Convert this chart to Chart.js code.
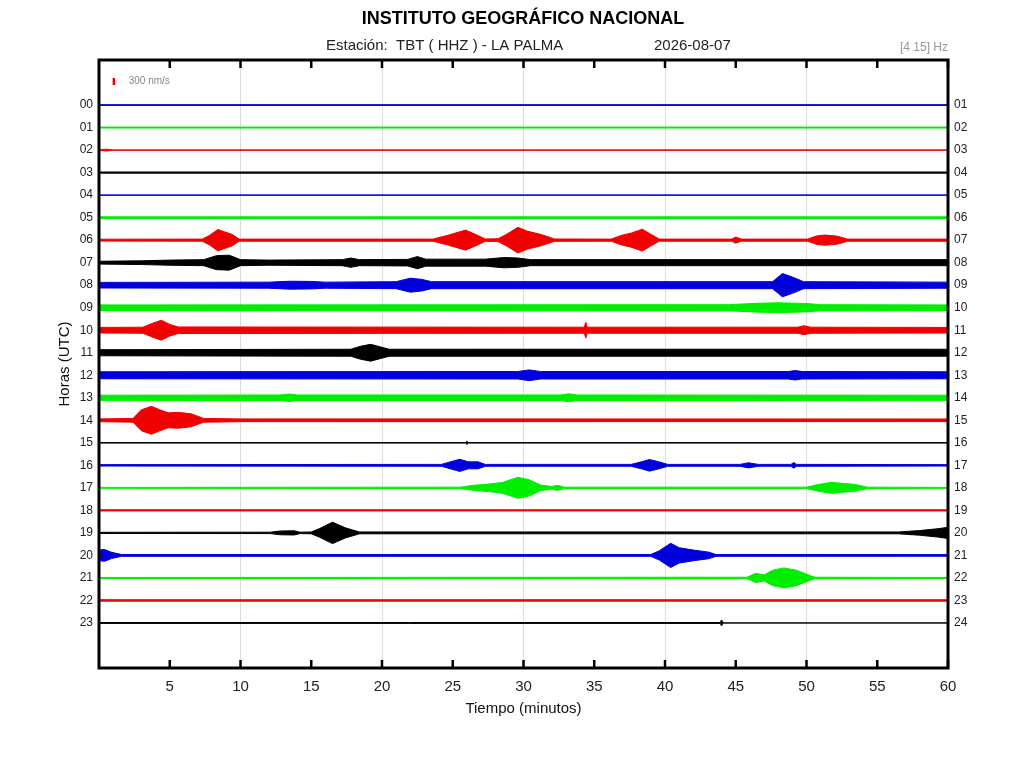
<!DOCTYPE html>
<html>
<head>
<meta charset="utf-8">
<title>Helicorder TBT</title>
<script src="https://cdn.jsdelivr.net/npm/chart.js@4.4.1/dist/chart.umd.min.js"></script>
<style>
  body { margin: 0; background: #fff; }
  canvas { display: block; }
</style>
</head>
<body>
<canvas id="heli" width="1024" height="768"></canvas>
<script>
// hour rows, left and right labels
const hours = [0,1,2,3,4,5,6,7,8,9,10,11,12,13,14,15,16,17,18,19,20,21,22,23];
const leftLabels = ["00","01","02","03","04","05","06","07","08","09","10","11","12","13","14","15","16","17","18","19","20","21","22","23"];
const rightLabels = ["01","02","03","04","05","06","07","08","09","10","11","12","13","14","15","16","17","18","19","20","21","22","23","24"];
const minuteTicks = [5,10,15,20,25,30,35,40,45,50,55,60];
const traceColors = ["#0000dd", "#00ee00", "#f00000", "#000000"];
const scaleBarNms = 300;

// envelope of each trace: [minute, half amplitude in nm/s]
const h00 = [[0,15],[60,15]];
const h01 = [[0,20],[60,20]];
const h02 = [[0,8],[0.5,40],[1.0,8],[60,8]];
const h03 = [[0,25],[60,25]];
const h04 = [[0,8],[60,8]];
const h05 = [[0,35],[60,35]];
const h06 = [[0,40],[7.3,45],[7.8,200],[8.4,460],[8.9,350],[9.4,250],[9.9,45],
  [23.6,45],[24.6,200],[25.9,430],[26.6,250],[27.3,50],[28.2,60],[28.8,250],[29.6,550],[30.3,380],[31.2,250],[32.2,50],
  [36.2,45],[36.9,200],[37.6,300],[38.4,470],[39,250],[39.6,45],
  [44.7,45],[45,130],[45.4,45],
  [50.1,45],[50.7,180],[51.3,220],[52.2,170],[52.9,45],[60,45]];
const h07 = [[0,60],[3,80],[5,110],[7.4,130],[8.3,300],[9.2,320],[10,130],[12,110],[17.2,130],[17.8,200],[18.4,130],
  [21.8,140],[22.5,260],[23.1,150],[27.3,150],[28.6,220],[29.6,200],[30.5,130],[60,130]];
const h08 = [[0,120],[12,130],[13.5,170],[15,160],[16,130],[21,150],[22,300],[22.8,250],[23.5,150],
  [47.6,150],[48.3,500],[49,350],[49.8,150],[60,130]];
const h09 = [[0,120],[44.5,130],[46.5,190],[48,210],[50,180],[51,130],[60,120]];
const h10 = [[0,120],[3.1,130],[3.8,300],[4.4,430],[5,250],[5.6,140],[34.3,130],[34.4,340],[34.5,130],
  [49.4,130],[49.8,190],[50.3,130],[60,120]];
const h11 = [[0,130],[17.8,150],[18.5,280],[19.2,360],[19.9,250],[20.5,150],[60,150]];
const h12 = [[0,150],[29.6,160],[30.4,230],[31.2,160],[48.7,160],[49.2,200],[49.7,160],[60,150]];
const h13 = [[0,110],[12.8,120],[13.5,160],[14,120],[32.6,120],[33.2,170],[33.8,120],[60,110]];
const h14 = [[0,60],[2.4,80],[3,450],[3.7,600],[4.3,450],[4.9,320],[5.6,340],[6.5,280],[7.4,80],[10,60],[60,55]];
const h15 = [[0,10],[25.9,10],[26,70],[26.1,10],[60,10]];
const h16 = [[0,30],[24.2,40],[25,180],[25.5,260],[26.1,150],[26.8,150],[27.3,40],[37.6,40],[38.4,160],[38.9,250],
  [39.5,160],[40.2,40],[45.3,40],[45.9,110],[46.6,40],[48.9,40],[49.1,120],[49.3,40],[60,30]];
const h17 = [[0,20],[25.5,30],[26.5,110],[27.5,160],[28.5,230],[29.6,450],[30.4,350],[31.2,120],[32,60],[32.4,110],
  [32.9,30],[50,30],[50.8,140],[51.8,240],[52.4,200],[53.4,150],[54.3,30],[60,20]];
const h18 = [[0,25],[60,25]];
const h19 = [[0,25],[12.1,30],[12.8,80],[13.8,90],[14.2,30],[15,40],[15.6,190],[16.5,460],[17.4,220],[18.4,40],
  [56.5,40],[58,100],[59.3,180],[60,240]];
const h20 = [[0,230],[0.4,250],[0.9,130],[1.6,40],[39,40],[39.6,200],[40.4,520],[41,330],[42,230],[43.1,140],[43.6,40],[60,35]];
const h21 = [[0,20],[45.8,30],[46.4,200],[47,130],[47.6,330],[48.4,430],[49.3,330],[50,160],[50.6,30],[60,20]];
const h22 = [[0,30],[60,30]];
const h23 = [[0,20],[43.9,20],[44,130],[44.1,0],[60,0]];

const traces = [h00,h01,h02,h03,h04,h05,h06,h07,h08,h09,h10,h11,h12,h13,h14,h15,h16,h17,h18,h19,h20,h21,h22,h23];

// 300 nm/s is ~7px, one hour row ~22.5px
const K = (7 / scaleBarNms) / 22.52;

Chart.defaults.font.family = "'Liberation Sans', Arial, sans-serif";
Chart.defaults.color = "#222";

let datasets = [];
for (let r = 0; r < traces.length; r++) {
    let col = traceColors[r % 4];
    let pts = traces[r];
    datasets.push({
        data: pts.map(p => ({ x: p[0], y: hours[r] - p[1] * K })),
        borderColor: col, backgroundColor: col, borderWidth: 1,
        pointRadius: 0, fill: false, tension: 0
    });
    datasets.push({
        data: pts.map(p => ({ x: p[0], y: hours[r] + p[1] * K })),
        borderColor: col, backgroundColor: col, borderWidth: 1,
        pointRadius: 0, fill: '-1', tension: 0
    });
}
// amplitude scale bar
datasets.push({
    data: [{ x: 1.05, y: -1.05 - scaleBarNms / 2 * K }, { x: 1.05, y: -1.05 + scaleBarNms / 2 * K }],
    borderColor: "#ee0000", borderWidth: 2.5, pointRadius: 0, fill: false
});

const decor = {
    id: 'decor',
    afterDraw(chart) {
        const c = chart.ctx;
        const a = chart.chartArea;
        const xs = chart.scales.x;
        const ys = chart.scales.y;
        c.save();
        // frame
        c.strokeStyle = "#000";
        c.lineWidth = 3;
        c.strokeRect(a.left, a.top, a.right - a.left, a.bottom - a.top);
        // inward ticks
        c.lineWidth = 2.5;
        minuteTicks.forEach(m => {
            let px = xs.getPixelForValue(m);
            c.beginPath();
            c.moveTo(px, a.top); c.lineTo(px, a.top + 8);
            c.moveTo(px, a.bottom); c.lineTo(px, a.bottom - 8);
            c.stroke();
        });
        // titles
        c.fillStyle = "#000";
        c.textBaseline = "middle";
        c.textAlign = "center";
        c.font = "bold 18px 'Liberation Sans', Arial, sans-serif";
        c.fillText("INSTITUTO GEOGRÁFICO NACIONAL", 523, 19);
        c.textAlign = "left";
        c.font = "15px 'Liberation Sans', Arial, sans-serif";
        c.fillStyle = "#222";
        c.fillText("Estación:  TBT ( HHZ ) - LA PALMA", 326, 46);
        c.fillText("2026-08-07", 654, 46);
        c.textAlign = "right";
        c.font = "12px 'Liberation Sans', Arial, sans-serif";
        c.fillStyle = "#999";
        c.fillText("[4 15] Hz", a.right, 48);
        // scale bar text
        c.textAlign = "left";
        c.font = "10px 'Liberation Sans', Arial, sans-serif";
        c.fillStyle = "#888";
        c.fillText(scaleBarNms + " nm/s", xs.getPixelForValue(2.1), ys.getPixelForValue(-1.05));
        // axis titles
        c.fillStyle = "#111";
        c.font = "15px 'Liberation Sans', Arial, sans-serif";
        c.textAlign = "center";
        c.fillText("Tiempo (minutos)", (a.left + a.right) / 2, 709);
        c.translate(65, (a.top + a.bottom) / 2);
        c.rotate(-Math.PI / 2);
        c.fillText("Horas (UTC)", 0, 0);
        c.restore();
    }
};

const hourTicks = s => { s.ticks = hours.map(v => ({ value: v })); };

let ctx = document.getElementById("heli").getContext("2d");
let heli = new Chart(ctx, {
    type: 'line',
    data: { datasets: datasets },
    options: {
        responsive: false,
        animation: false,
        devicePixelRatio: 1,
        layout: { padding: { top: 60, left: 0, right: 0, bottom: 0 } },
        plugins: { legend: { display: false }, tooltip: { enabled: false } },
        scales: {
            x: {
                type: 'linear', min: 0, max: 60,
                afterFit: s => { s.height = 100; },
                afterBuildTicks: s => { s.ticks = [0].concat(minuteTicks).map(v => ({ value: v })); },
                ticks: { callback: v => (v === 0 ? '' : v), font: { size: 15 }, color: "#222", padding: 10, maxRotation: 0, autoSkip: false },
                grid: { color: c => (c.tick && c.tick.value % 10 === 0 ? "#dcdcdc" : "rgba(0,0,0,0)"), drawTicks: false, lineWidth: 1 },
                border: { display: false }
            },
            y: {
                type: 'linear', position: 'left', min: -2, max: 25, reverse: true,
                afterFit: s => { s.width = 99; },
                afterBuildTicks: hourTicks,
                ticks: { callback: v => leftLabels[v], font: { size: 12 }, color: "#222", padding: 6, autoSkip: false },
                grid: { display: false, drawTicks: false },
                border: { display: false }
            },
            y2: {
                type: 'linear', position: 'right', min: -2, max: 25, reverse: true,
                afterFit: s => { s.width = 76; },
                afterBuildTicks: hourTicks,
                ticks: { callback: v => rightLabels[v], font: { size: 12 }, color: "#222", padding: 6, autoSkip: false },
                grid: { display: false, drawTicks: false },
                border: { display: false }
            }
        }
    },
    plugins: [decor]
});
</script>
</body>
</html>
